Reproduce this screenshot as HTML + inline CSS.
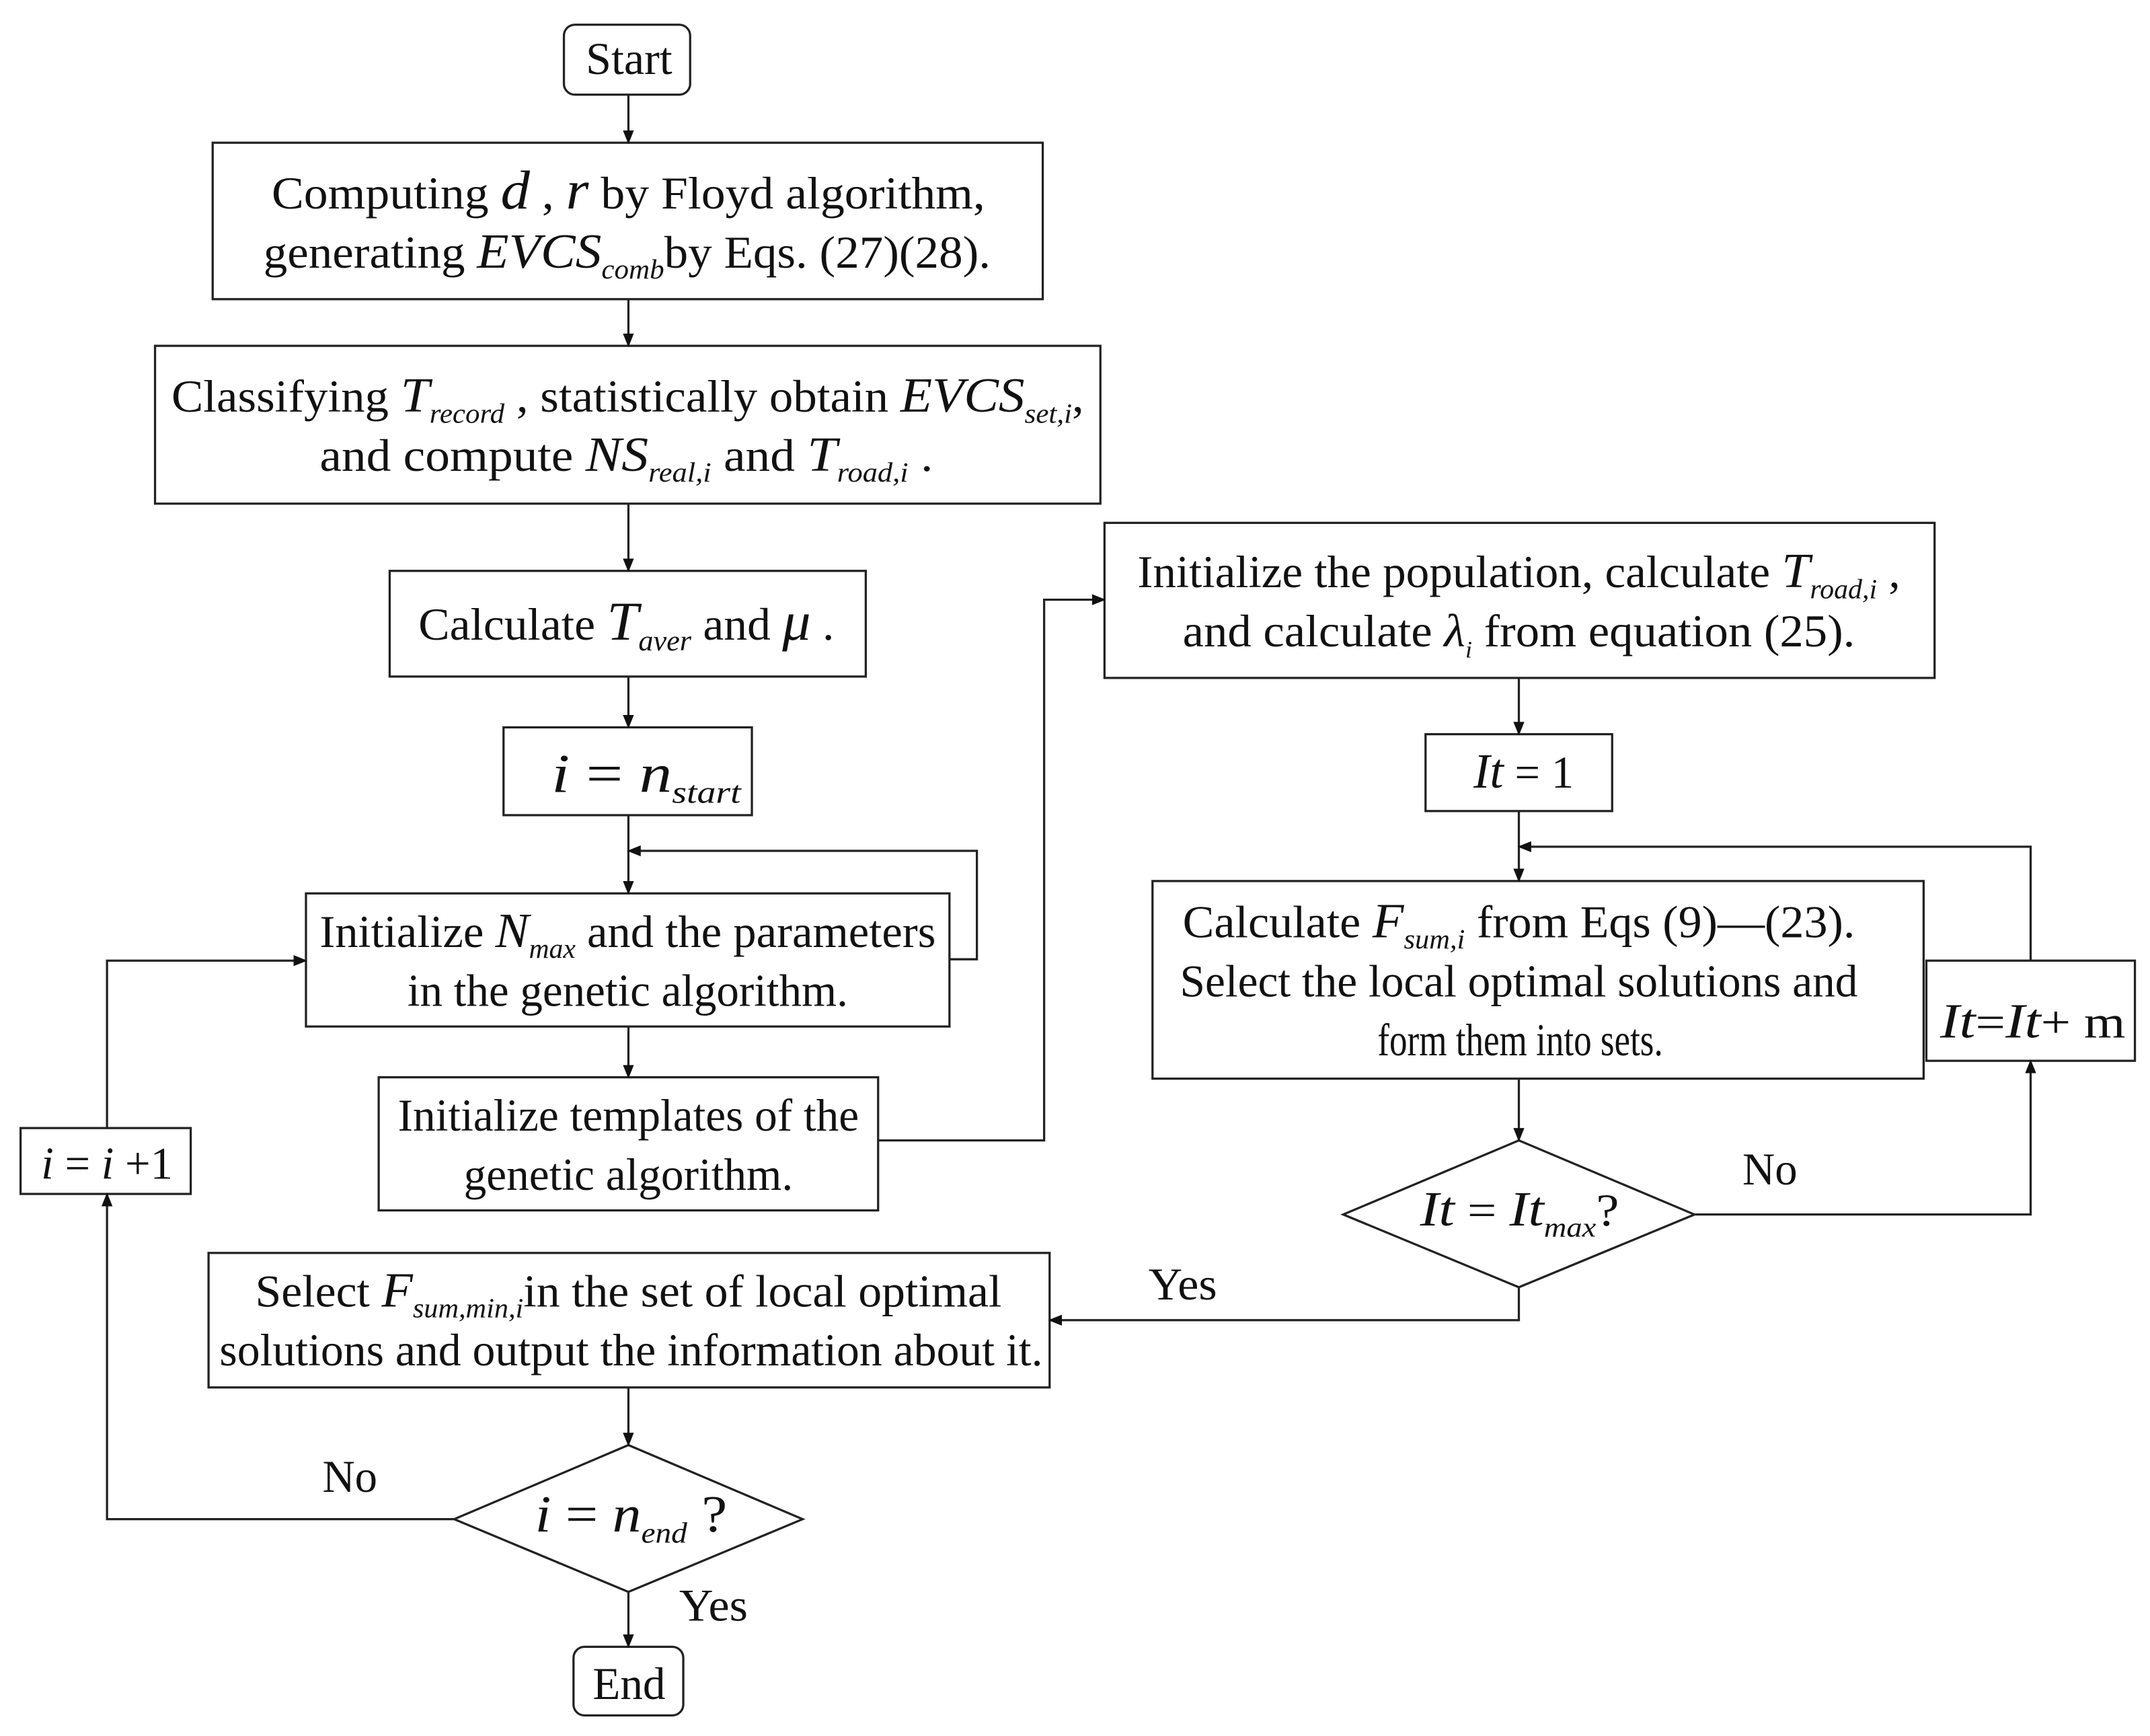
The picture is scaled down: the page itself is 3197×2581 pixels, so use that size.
<!DOCTYPE html>
<html><head><meta charset="utf-8"><style>html,body{margin:0;padding:0;background:#fff}svg{display:block}svg text{font-family:"Liberation Serif","Times New Roman",serif}</style></head>
<body>
<svg width="3197" height="2581" viewBox="0 0 1567 1265" preserveAspectRatio="none" xmlns="http://www.w3.org/2000/svg" style="font-family:'Liberation Serif',serif" font-size="33" fill="#111">
<defs><marker id="a" markerWidth="10" markerHeight="10" refX="9" refY="5" orient="auto" markerUnits="userSpaceOnUse"><path d="M0,1 L10,5 L0,9 Z" fill="#111"/></marker></defs>
<g fill="none" stroke="#222" stroke-width="1.6">
<rect x="411" y="18" width="92" height="51" rx="8"/>
<rect x="155" y="104" width="605" height="114"/>
<rect x="113" y="252" width="689" height="115"/>
<rect x="284" y="416" width="347" height="77"/>
<rect x="367" y="530" width="181" height="64"/>
<rect x="223" y="651" width="469" height="97"/>
<rect x="276" y="785" width="364" height="97"/>
<rect x="805" y="381" width="605" height="113"/>
<rect x="1039" y="535" width="136" height="56"/>
<rect x="840" y="642" width="562" height="144"/>
<polygon points="979,885 1107,831 1235,885 1107,938"/>
<rect x="1404" y="700" width="152" height="73"/>
<rect x="152" y="913" width="613" height="98"/>
<polygon points="331,1107 458,1053 585,1107 458,1160"/>
<rect x="418" y="1200" width="80" height="50" rx="8"/>
<rect x="15" y="822" width="124" height="48"/>
<g marker-end="url(#a)">
<path d="M458,69 V104"/><path d="M458,218 V252"/><path d="M458,367 V416"/><path d="M458,493 V530"/>
<path d="M458,594 V651"/><path d="M692,699 H712 V620 H458"/><path d="M458,748 V785"/>
<path d="M640,831 H761 V437 H805"/><path d="M1107,494 V535"/><path d="M1107,591 V642"/>
<path d="M1107,786 V831"/><path d="M1235,885 H1480 V773"/><path d="M1480,700 V617 H1107"/>
<path d="M1107,938 V962 H765"/><path d="M458,1011 V1053"/><path d="M458,1160 V1200"/>
<path d="M331,1107 H78 V870"/><path d="M78,822 V700 H223"/>
</g></g>
<text x="427" y="54" textLength="63" lengthAdjust="spacingAndGlyphs">Start</text>
<text x="198" y="152" textLength="520" lengthAdjust="spacingAndGlyphs">Computing <tspan font-style="italic" font-size="40">d</tspan> , <tspan font-style="italic" font-size="40">r</tspan> by Floyd algorithm,</text>
<text x="192" y="195" textLength="530" lengthAdjust="spacingAndGlyphs">generating <tspan font-style="italic" font-size="36">EVCS</tspan><tspan font-style="italic" font-size="20" dy="8">comb</tspan><tspan dy="-8">by Eqs. (27)(28).</tspan></text>
<text x="125" y="300" textLength="665" lengthAdjust="spacingAndGlyphs">Classifying <tspan font-style="italic" font-size="36">T</tspan><tspan font-style="italic" font-size="20" dy="8">record</tspan><tspan dy="-8"> , statistically obtain </tspan><tspan font-style="italic" font-size="36">EVCS</tspan><tspan font-style="italic" font-size="20" dy="8">set,i</tspan><tspan dy="-8">,</tspan></text>
<text x="233" y="343" textLength="447" lengthAdjust="spacingAndGlyphs">and compute <tspan font-style="italic" font-size="36">NS</tspan><tspan font-style="italic" font-size="20" dy="8">real,i</tspan><tspan dy="-8"> and </tspan><tspan font-style="italic" font-size="36">T</tspan><tspan font-style="italic" font-size="20" dy="8">road,i</tspan><tspan dy="-8"> .</tspan></text>
<text x="305" y="466" textLength="303" lengthAdjust="spacingAndGlyphs">Calculate <tspan font-style="italic" font-size="40">T</tspan><tspan font-style="italic" font-size="21" dy="8">aver</tspan><tspan dy="-8"> and </tspan><tspan font-style="italic" font-size="40">μ</tspan> .</text>
<text x="402" y="577" textLength="138" lengthAdjust="spacingAndGlyphs" font-size="40"><tspan font-style="italic">i</tspan> = <tspan font-style="italic">n</tspan><tspan font-style="italic" font-size="23" dy="8">start</tspan></text>
<text x="233" y="690" textLength="449" lengthAdjust="spacingAndGlyphs">Initialize <tspan font-style="italic" font-size="36">N</tspan><tspan font-style="italic" font-size="20" dy="8">max</tspan><tspan dy="-8"> and the parameters</tspan></text>
<text x="297" y="733" textLength="321" lengthAdjust="spacingAndGlyphs">in the genetic algorithm.</text>
<text x="290" y="824" textLength="336" lengthAdjust="spacingAndGlyphs">Initialize templates of the</text>
<text x="338" y="867" textLength="240" lengthAdjust="spacingAndGlyphs">genetic algorithm.</text>
<text x="829" y="428" textLength="556" lengthAdjust="spacingAndGlyphs">Initialize the population, calculate <tspan font-style="italic" font-size="36">T</tspan><tspan font-style="italic" font-size="20" dy="8">road,i</tspan><tspan dy="-8"> ,</tspan></text>
<text x="862" y="471" textLength="490" lengthAdjust="spacingAndGlyphs">and calculate <tspan font-style="italic" font-size="34">λ</tspan><tspan font-style="italic" font-size="17" dy="8">i</tspan><tspan dy="-8">  from equation (25).</tspan></text>
<text x="1074" y="574" textLength="73" lengthAdjust="spacingAndGlyphs"><tspan font-style="italic" font-size="36">It</tspan> = 1</text>
<text x="862" y="683" textLength="490" lengthAdjust="spacingAndGlyphs">Calculate <tspan font-style="italic" font-size="36">F</tspan><tspan font-style="italic" font-size="20" dy="8">sum,i</tspan><tspan dy="-8"> from Eqs (9)—(23).</tspan></text>
<text x="860" y="726" textLength="494" lengthAdjust="spacingAndGlyphs">Select the local optimal solutions and</text>
<text x="1004" y="769" textLength="208" lengthAdjust="spacingAndGlyphs">form them into sets.</text>
<text x="1035" y="893" textLength="145" lengthAdjust="spacingAndGlyphs"><tspan font-style="italic" font-size="36">It</tspan> = <tspan font-style="italic" font-size="36">It</tspan><tspan font-style="italic" font-size="20" dy="8">max</tspan><tspan dy="-8">?</tspan></text>
<text x="1414" y="756" textLength="135" lengthAdjust="spacingAndGlyphs"><tspan font-style="italic" font-size="36">It</tspan>=<tspan font-style="italic" font-size="36">It</tspan>+ m</text>
<text x="186" y="952" textLength="544" lengthAdjust="spacingAndGlyphs">Select <tspan font-style="italic" font-size="36">F</tspan><tspan font-style="italic" font-size="20" dy="8">sum,min,i</tspan><tspan dy="-8">in the set of local optimal</tspan></text>
<text x="160" y="995" textLength="600" lengthAdjust="spacingAndGlyphs">solutions and output the information about it.</text>
<text x="390" y="1116" textLength="140" lengthAdjust="spacingAndGlyphs" font-size="38"><tspan font-style="italic">i</tspan> = <tspan font-style="italic">n</tspan><tspan font-style="italic" font-size="21" dy="8">end</tspan><tspan dy="-8"> ?</tspan></text>
<text x="30" y="859" textLength="96" lengthAdjust="spacingAndGlyphs"><tspan font-style="italic">i</tspan> = <tspan font-style="italic">i</tspan> +1</text>
<text x="432" y="1238" textLength="53" lengthAdjust="spacingAndGlyphs">End</text>
<text x="1270" y="863" textLength="40" lengthAdjust="spacingAndGlyphs">No</text>
<text x="837" y="947" textLength="50" lengthAdjust="spacingAndGlyphs">Yes</text>
<text x="235" y="1087" textLength="40" lengthAdjust="spacingAndGlyphs">No</text>
<text x="495" y="1181" textLength="50" lengthAdjust="spacingAndGlyphs">Yes</text>
</svg>
</body></html>
